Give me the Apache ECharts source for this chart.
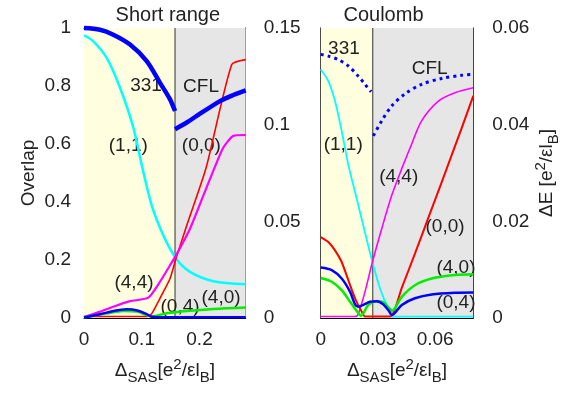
<!DOCTYPE html>
<html>
<head>
<meta charset="utf-8">
<script src="https://cdn.jsdelivr.net/npm/echarts@6/dist/echarts.min.js"></script>
<style>
    html, body { margin: 0; padding: 0; background: #fff; }
    #chart1 { width: 572px; height: 393px; }
</style>
</head>
<body>
<div id="chart1"></div>
<script>
    // ---- Short range panel (left) ----
    var srMax = 0.28;
    var srSplit = 0.1576;
    var sr331X = [0, 0.0277, 0.0507, 0.0797, 0.1086, 0.1316, 0.1490, 0.1576];
    var sr331Y = [1.000, 0.994, 0.977, 0.943, 0.886, 0.811, 0.754, 0.714];
    var srCflX = [0.1576, 0.1779, 0.1952, 0.2356, 0.2586, 0.28];
    var srCflY = [0.651, 0.674, 0.697, 0.748, 0.769, 0.785];
    var sr11X = [0, 0.0161, 0.0393, 0.0624, 0.0854, 0.0999, 0.1173, 0.1373, 0.1593, 0.1836, 0.2240, 0.28];
    var sr11Y = [0.975, 0.954, 0.897, 0.794, 0.657, 0.528, 0.388, 0.285, 0.205, 0.159, 0.127, 0.116];
    var sr00X = [0, 0.0500, 0.1086, 0.1173, 0.1316, 0.1490, 0.1593, 0.1779, 0.2113, 0.2558, 0.28];
    var sr00Y = [0.005, 0.005, 0.005, 0.015, 0.068, 0.136, 0.205, 0.319, 0.517, 0.874, 0.891];
    var sr44X = [0, 0.0277, 0.0507, 0.0797, 0.1114, 0.1316, 0.1490, 0.1593, 0.1836, 0.2066, 0.2240, 0.2413, 0.2586, 0.28];
    var sr44Y = [0.003, 0.022, 0.039, 0.058, 0.070, 0.125, 0.182, 0.216, 0.308, 0.422, 0.508, 0.588, 0.628, 0.631];
    var sr40X = [0, 0.0393, 0.0681, 0.0913, 0.1114, 0.1173, 0.1432, 0.1779, 0.2240, 0.28];
    var sr40Y = [0.002, 0.016, 0.024, 0.022, 0.008, 0.006, 0.016, 0.024, 0.031, 0.036];
    var sr04X = [0, 0.0277, 0.0507, 0.0740, 0.0940, 0.1086, 0.1173, 0.1300, 0.28];
    var sr04Y = [0.002, 0.013, 0.024, 0.030, 0.025, 0.013, 0.004, 0.003, 0.003];
    var srLabels = [
        ['331', 0.1074, 0.80], ['CFL', 0.2026, 0.796], ['(1,1)', 0.0767, 0.594], ['(0,0)', 0.2032, 0.594],
        ['(4,4)', 0.0866, 0.122], ['(0,4)', 0.1663, 0.038], ['(4,0)', 0.2373, 0.069]
    ];

    // ---- Coulomb panel (right) ----
    var clMax = 0.08;
    var clSplit = 0.0273;
    var cl331X = [0, 0.0040, 0.0092, 0.0145, 0.0197, 0.0232, 0.0264];
    var cl331Y = [0.909, 0.903, 0.891, 0.869, 0.834, 0.806, 0.780];
    var clCflX = [0.0276, 0.0320, 0.0372, 0.0442, 0.0529, 0.0634, 0.0739, 0.0800];
    var clCflY = [0.628, 0.680, 0.731, 0.773, 0.806, 0.826, 0.837, 0.840];
    var cl11X = [0, 0.0040, 0.0075, 0.0110, 0.0145, 0.0189, 0.0232, 0.0271, 0.0311, 0.0346, 0.0369, 0.0376, 0.0800];
    var cl11Y = [0.857, 0.817, 0.748, 0.645, 0.528, 0.411, 0.296, 0.193, 0.102, 0.045, 0.022, 0.005, 0.005];
    var cl00X = [0, 0.0040, 0.0075, 0.0110, 0.0145, 0.0180, 0.0215, 0.0232, 0.0364, 0.0425, 0.0494, 0.0564, 0.0634, 0.0739, 0.0800];
    var cl00Y = [0.279, 0.262, 0.233, 0.193, 0.130, 0.068, 0.022, 0.005, 0.005, 0.104, 0.222, 0.345, 0.468, 0.655, 0.766];
    var cl44X = [0, 0.0180, 0.0197, 0.0232, 0.0271, 0.0320, 0.0372, 0.0425, 0.0477, 0.0529, 0.0617, 0.0704, 0.0800];
    var cl44Y = [0.005, 0.005, 0.014, 0.090, 0.193, 0.308, 0.422, 0.515, 0.600, 0.680, 0.748, 0.777, 0.794];
    var cl40X = [0, 0.0058, 0.0110, 0.0154, 0.0189, 0.0211, 0.0250, 0.0294, 0.0328, 0.0363, 0.0374, 0.0425, 0.0494, 0.0582, 0.0704, 0.0800];
    var cl40Y = [0.138, 0.125, 0.096, 0.056, 0.024, 0.008, 0.045, 0.058, 0.054, 0.031, 0.025, 0.073, 0.113, 0.136, 0.148, 0.151];
    var cl04X = [0, 0.0058, 0.0110, 0.0154, 0.0180, 0.0197, 0.0223, 0.0258, 0.0294, 0.0328, 0.0358, 0.0372, 0.0425, 0.0494, 0.0582, 0.0704, 0.0800];
    var cl04Y = [0.174, 0.165, 0.136, 0.090, 0.047, 0.039, 0.045, 0.056, 0.058, 0.047, 0.024, 0.010, 0.045, 0.068, 0.081, 0.087, 0.088];
    var clLabels = [
        ['331', 0.0122, 0.929], ['CFL', 0.0571, 0.86], ['(1,1)', 0.0118, 0.597], ['(4,4)', 0.0409, 0.487],
        ['(0,0)', 0.0652, 0.316], ['(4,0)', 0.0709, 0.173], ['(0,4)', 0.0709, 0.053]
    ];

    var FONT = 'Liberation Sans, Arial, sans-serif';
    var TXT = '#222';
    var subRich = {
        n: {fontSize: 19, lineHeight: 28, color: TXT, fontFamily: FONT},
        sub: {fontSize: 15, lineHeight: 15, verticalAlign: 'bottom', color: TXT, fontFamily: FONT},
        sup: {fontSize: 15, lineHeight: 15, verticalAlign: 'top', color: TXT, fontFamily: FONT}
    };
    var xName = '{n|Δ}{sub|SAS}{n|[e}{sup|2}{n|/εl}{sub|B}{n|]}';
    var eName = '{n|ΔE [e}{sup|2}{n|/εl}{sub|B}{n|]}';

    function zip(xs, ys) {
        var out = [];
        for (var i = 0; i < xs.length; i++) out.push([xs[i], ys[i]]);
        return out;
    }

    function line(xs, ys, gi, color, width, smooth, dash) {
        return {
            type: 'line',
            xAxisIndex: gi,
            yAxisIndex: gi == 0 ? 0 : 2,
            data: zip(xs, ys),
            symbol: 'none',
            smooth: smooth,
            clip: false,
            silent: true,
            lineStyle: {color: color, width: width, type: dash || 'solid'},
            z: 3
        };
    }

    // shaded region from x0 to x1, filled down to the bottom of the axis
    function band(gi, x0, x1, color) {
        return {
            type: 'line',
            xAxisIndex: gi,
            yAxisIndex: gi == 0 ? 0 : 2,
            data: [[x0, 1], [x1, 1]],
            symbol: 'none',
            silent: true,
            lineStyle: {width: 0},
            areaStyle: {color: color, opacity: 1, origin: 'start'},
            z: 0.5
        };
    }

    function divider(gi, x) {
        return {
            type: 'line',
            xAxisIndex: gi,
            yAxisIndex: gi == 0 ? 0 : 2,
            data: [[x, 0], [x, 1]],
            symbol: 'none',
            silent: true,
            lineStyle: {color: '#333', width: 1},
            z: 0.6
        };
    }

    function texts(list, gi) {
        return {
            type: 'scatter',
            xAxisIndex: gi,
            yAxisIndex: gi == 0 ? 0 : 2,
            symbolSize: 1,
            itemStyle: {color: 'rgba(0,0,0,0)', opacity: 1},
            silent: true,
            clip: false,
            z: 1,
            label: {
                show: true, position: 'inside', formatter: '{b}',
                fontSize: 19, color: TXT, fontFamily: FONT, opacity: 1
            },
            data: list.map(function (d) { return {name: d[0], value: [d[1], d[2]]}; })
        };
    }

    var axisLine = {show: true, onZero: false, lineStyle: {color: '#000', width: 1}};
    var tickLabel = {fontSize: 19, color: TXT, fontFamily: FONT};

    var chart1 = echarts.init(document.getElementById('chart1'), null, {renderer: 'canvas'});
    var option = {
        animation: false,
        textStyle: {fontFamily: FONT},
        grid: [
            {left: 84, top: 26.7, width: 161.7, height: 291.3},
            {left: 320.7, top: 26.7, width: 152.6, height: 291.3}
        ],
        xAxis: [
            {
                gridIndex: 0, type: 'value', min: 0, max: srMax, interval: 0.1,
                axisLine: axisLine, axisTick: {show: false}, splitLine: {show: false},
                axisLabel: Object.assign({margin: 12, showMaxLabel: false}, tickLabel),
                name: xName, nameLocation: 'middle', nameGap: 39,
                nameTextStyle: {rich: subRich}
            },
            {
                gridIndex: 1, type: 'value', min: 0, max: clMax, interval: 0.03,
                axisLine: axisLine, axisTick: {show: false}, splitLine: {show: false},
                axisLabel: Object.assign({margin: 12, showMaxLabel: false}, tickLabel),
                name: xName, nameLocation: 'middle', nameGap: 39,
                nameTextStyle: {rich: subRich}
            },
            {
                gridIndex: 0, type: 'value', position: 'top', min: 0, max: 1,
                axisLine: axisLine, axisTick: {show: false}, splitLine: {show: false}, axisLabel: {show: false},
                name: 'Short range', nameLocation: 'middle', nameGap: 3,
                nameTextStyle: {fontSize: 20, color: TXT, fontFamily: FONT, padding: [0, 0, 0, 6]}
            },
            {
                gridIndex: 1, type: 'value', position: 'top', min: 0, max: 1,
                axisLine: axisLine, axisTick: {show: false}, splitLine: {show: false}, axisLabel: {show: false},
                name: 'Coulomb', nameLocation: 'middle', nameGap: 3,
                nameTextStyle: {fontSize: 20, color: TXT, fontFamily: FONT, padding: [0, 27, 0, 0]}
            }
        ],
        yAxis: [
            {
                gridIndex: 0, type: 'value', position: 'left', min: 0, max: 1, interval: 0.2,
                axisLine: axisLine, axisTick: {show: false}, splitLine: {show: false},
                axisLabel: Object.assign({margin: 13}, tickLabel),
                name: 'Overlap', nameLocation: 'middle', nameGap: 46, nameRotate: 90,
                nameTextStyle: {fontSize: 19, color: TXT, fontFamily: FONT}
            },
            {
                gridIndex: 0, type: 'value', position: 'right', min: 0, max: 0.15, interval: 0.05,
                axisLine: axisLine, axisTick: {show: false}, splitLine: {show: false},
                axisLabel: Object.assign({margin: 18}, tickLabel)
            },
            {
                gridIndex: 1, type: 'value', position: 'left', min: 0, max: 1, interval: 0.2,
                axisLine: axisLine, axisTick: {show: false}, splitLine: {show: false},
                axisLabel: {show: false}
            },
            {
                gridIndex: 1, type: 'value', position: 'right', min: 0, max: 0.06, interval: 0.02,
                axisLine: axisLine, axisTick: {show: false}, splitLine: {show: false},
                axisLabel: Object.assign({margin: 19}, tickLabel),
                name: eName, nameLocation: 'middle', nameGap: 58, nameRotate: 90,
                nameTextStyle: {rich: subRich}
            }
        ],
        series: [
            band(0, 0, srSplit, '#ffffe0'),
            band(0, srSplit, srMax, '#e6e6e6'),
            band(1, 0, clSplit, '#ffffe0'),
            band(1, clSplit, clMax, '#e6e6e6'),
            divider(0, srSplit),
            divider(1, clSplit),
            texts(srLabels, 0),
            texts(clLabels, 1),

            line(sr11X, sr11Y, 0, '#00ffff', 2.5, 0.3),
            line(sr00X, sr00Y, 0, '#ff0000', 1.6, 0.2),
            line(sr44X, sr44Y, 0, '#ff00ff', 2.2, 0.2),
            line(sr40X, sr40Y, 0, '#00ee00', 2.5, 0.3),
            line(sr04X, sr04Y, 0, '#0000ff', 2.5, 0.3),
            line(sr331X, sr331Y, 0, '#0000ff', 4.5, 0.3),
            line(srCflX, srCflY, 0, '#0000ff', 4.5, 0.3),

            line(cl11X, cl11Y, 1, '#00ffff', 1.8, 0.3),
            line(cl44X, cl44Y, 1, '#ff00ff', 1.6, 0.3),
            line(cl00X, cl00Y, 1, '#ff0000', 2, 0.2),
            line(cl40X, cl40Y, 1, '#00ee00', 2.5, 0.3),
            line(cl04X, cl04Y, 1, '#0000ff', 2.5, 0.3),
            line(cl331X, cl331Y, 1, '#0000ff', 3, 0.3, [3, 4]),
            line(clCflX, clCflY, 1, '#0000ff', 3, 0.3, [3, 4])
        ]
    };

    chart1.setOption(option);
    window.addEventListener('resize', function () {
        chart1.resize();
    });
</script>
</body>
</html>
